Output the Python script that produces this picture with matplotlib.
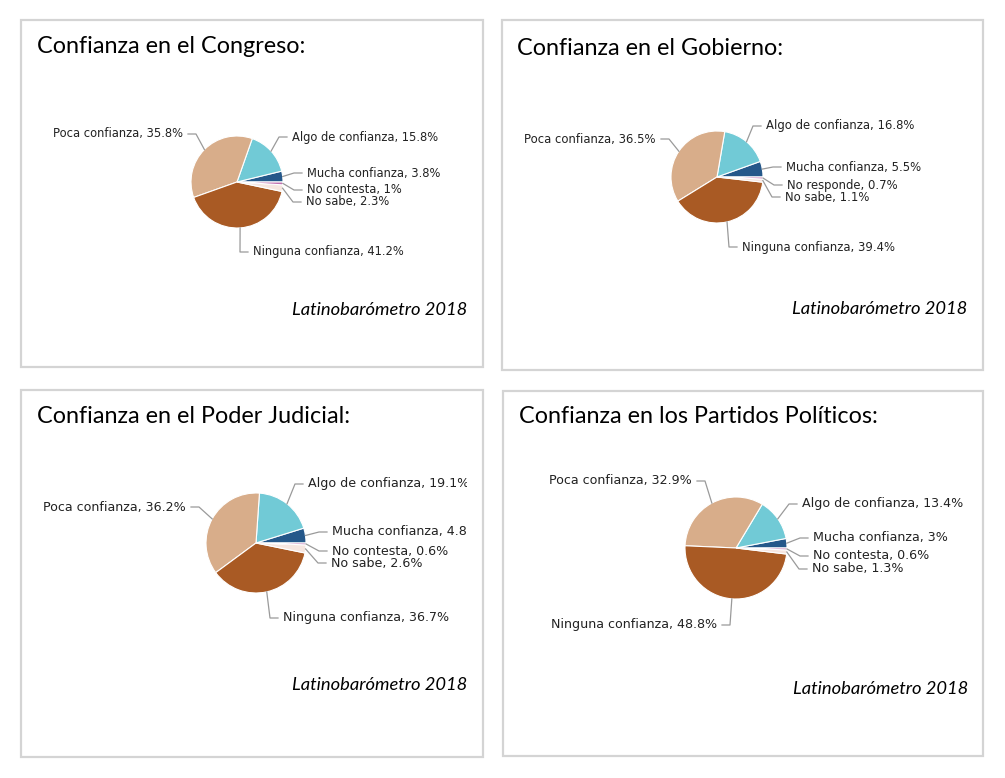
import numpy as np
import matplotlib.pyplot as plt
from matplotlib.patches import Rectangle

# =============================================================================
# DATA  (slice order: counter-clockwise from 3 o'clock)
# =============================================================================
titles = ['Confianza en el Congreso:', 'Confianza en el Gobierno:',
          'Confianza en el Poder Judicial:', 'Confianza en los Partidos Políticos:']

cats_std = ['Mucha confianza', 'Algo de confianza', 'Poca confianza',
            'Ninguna confianza', 'No sabe', 'No contesta']
cats_gob = ['Mucha confianza', 'Algo de confianza', 'Poca confianza',
            'Ninguna confianza', 'No sabe', 'No responde']

congreso = [3.8, 15.8, 35.8, 41.2, 2.3, 1]
gobierno = [5.5, 16.8, 36.5, 39.4, 1.1, 0.7]
judicial = [4.8, 19.1, 36.2, 36.7, 2.6, 0.6]
partidos = [3, 13.4, 32.9, 48.8, 1.3, 0.6]

source = 'Latinobarómetro 2018'

colors = ['#25588a', '#71cad6', '#d8ad8a', '#a95a24', '#f6e6e0', '#c070b0']

# =============================================================================
# LAYOUT (pixels)
# =============================================================================
W, H = 1005, 778

# panel box, pie centre + radius, title pos, source pos, label clip x, label size
panels = [
  dict(box=(21, 20, 483, 367), c=(237, 182), r=46, t=(37, 46), s=(467, 310), clip=482, fs=8.3),
  dict(box=(502, 20, 983, 370), c=(717, 177), r=46, t=(517, 48), s=(967, 309), clip=982, fs=8.4),
  dict(box=(21, 390, 483, 757), c=(256, 543), r=50, t=(37, 416), s=(467, 685), clip=467, fs=9.1),
  dict(box=(503, 391, 983, 756), c=(736, 548), r=51, t=(519, 416), s=(968, 689), clip=982, fs=9.1),
]

# label text anchors (x, y, side) in slice order
label_pos = [
  [(307, 173, 'l'), (292, 137, 'l'), (183, 134, 'r'), (253, 252, 'l'), (306, 202, 'l'), (307, 190, 'l')],
  [(786, 167, 'l'), (766, 126, 'l'), (656, 139, 'r'), (742, 247, 'l'), (785, 197, 'l'), (787, 185, 'l')],
  [(332, 532, 'l'), (308, 484, 'l'), (186, 507, 'r'), (283, 618, 'l'), (331, 563, 'l'), (332, 551, 'l')],
  [(813, 538, 'l'), (802, 504, 'l'), (692, 481, 'r'), (717, 625, 'r'), (812, 569, 'l'), (813, 556, 'l')],
]

def fmt(v):
  return ('%g' % v) + '%'

def pxAxes(x0, y0, x1, y1) :
  """ axes covering a pixel box, with pixel data coordinates (y down) """
  a = fig.add_axes([x0 / W, 1 - y1 / H, (x1 - x0) / W, (y1 - y0) / H])
  a.set_xlim(x0, x1)
  a.set_ylim(y1, y0)
  a.axis('off')
  return a

# =============================================================================
# PLOT
# =============================================================================
fig = plt.figure(figsize=(W / 100, H / 100), dpi=100)
fig.patch.set_facecolor('white')

ov = pxAxes(0, 0, W, H)

datasets = [congreso, gobierno, judicial, partidos]
catsets = [cats_std, cats_gob, cats_std, cats_std]

for p, vals, cats, title, lpos in zip(panels, datasets, catsets, titles, label_pos):
  x0, y0, x1, y1 = p['box']
  ov.add_patch(Rectangle((x0, y0), x1 - x0, y1 - y0, fill=False,
                         edgecolor='#d4d4d4', lw=1.6))
  ov.text(p['t'][0], p['t'][1], title, fontsize=16.8, family='Lato',
          va='center', ha='left', color='black')
  ov.text(p['s'][0], p['s'][1], source, fontsize=13.2, family='Lato',
          style='italic', va='center', ha='right', color='black')

  cx, cy = p['c']
  r = p['r']
  ax = fig.add_axes([(cx - r) / W, 1 - (cy + r) / H, 2 * r / W, 2 * r / H])
  ax.pie(vals, colors=colors, startangle=0, counterclock=True,
         wedgeprops=dict(edgecolor='white', linewidth=0.8))
  ax.set_xlim(-1, 1)
  ax.set_ylim(-1, 1)
  ax.axis('off')

  # labels live in their own axes so that they get clipped at the chart edge
  la = pxAxes(x0 + 1, y0 + 1, p['clip'], y1 - 1)
  tot = float(sum(vals))
  a0 = 0.0
  for v, cat, (tx, ty, side) in zip(vals, cats, lpos):
    a1 = a0 + 360.0 * v / tot
    mid = np.deg2rad((a0 + a1) / 2)
    a0 = a1
    ex = cx + r * np.cos(mid)
    ey = cy - r * np.sin(mid)
    if side == 'l':
      lx1 = tx - 5
      lx0 = lx1 - 8
      ha = 'left'
    else:
      lx1 = tx + 5
      lx0 = lx1 + 8
      ha = 'right'
    la.plot([ex, lx0, lx1], [ey, ty, ty], color='#9a9a9a', lw=0.9)
    la.text(tx, ty, cat + ', ' + fmt(v), fontsize=p['fs'], family='DejaVu Sans',
            ha=ha, va='center', color='#222222', clip_on=True)

fig.savefig('out.png', dpi=100, facecolor='white')
